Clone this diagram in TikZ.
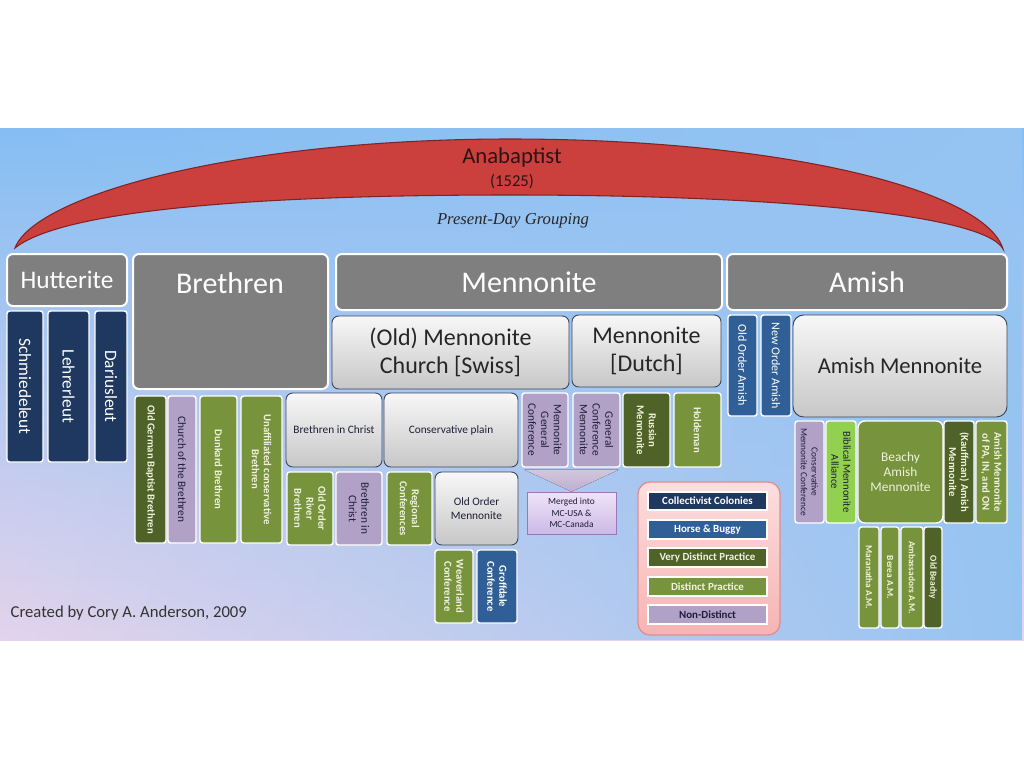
\documentclass[tikz,border=0pt]{standalone}
\usepackage{fontspec}
\setmainfont{Carlito}
\newfontfamily\serifit{Liberation Serif}
\usetikzlibrary{fadings,calc}
\definecolor{bgtop}{RGB}{133,190,244}
\definecolor{bgbot}{RGB}{228,212,236}
\definecolor{bgright}{RGB}{150,196,242}
\definecolor{arcred}{RGB}{203,63,60}
\definecolor{arcdark}{RGB}{130,35,35}
\definecolor{anatext}{RGB}{45,20,20}
\definecolor{navy}{RGB}{31,56,96}
\definecolor{hbblue}{RGB}{47,95,150}
\definecolor{dgreen}{RGB}{79,98,40}
\definecolor{mgreen}{RGB}{119,147,60}
\definecolor{lgreen}{RGB}{146,208,80}
\definecolor{lav}{RGB}{178,161,199}
\definecolor{hgray}{RGB}{127,127,127}
\definecolor{slate}{RGB}{60,70,90}
\definecolor{cream}{RGB}{240,242,222}
\definecolor{darktxt}{RGB}{30,30,55}
\definecolor{legtop}{RGB}{252,222,222}
\definecolor{legbot}{RGB}{246,180,180}
\definecolor{legedge}{RGB}{228,140,140}
\definecolor{mrgtop}{RGB}{238,228,248}
\definecolor{mrgbot}{RGB}{205,185,230}
\definecolor{mrgedge}{RGB}{150,120,190}
\tikzfading[name=fadeR, left color=transparent!100, right color=transparent!0]
\newcommand\bx[6]{\node[#6, minimum width={(#4-#2)*0.75pt}, minimum height={(#5-#3)*0.75pt}, inner sep=0pt] (#1) at ({(#2+#4)/2},{(#3+#5)/2}) {};}
\newcommand\tbx[8]{\bx{#1}{#2}{#3}{#4}{#5}{#6}\node[#7] (#1-t) at (#1.center) {#8};}
\begin{document}
\begin{tikzpicture}[x=0.75pt,y=-0.75pt,
  box/.style={draw=white, line width=1.1pt, rounded corners=2pt},
  head/.style={fill=hgray, draw=white, line width=1.5pt, rounded corners=4.5pt},
  lgbox/.style={top color=white!97!black, bottom color=black!22, draw=slate, line width=0.7pt, rounded corners=5pt},
  navybox/.style={box, fill=navy},
  bluebox/.style={box, fill=hbblue},
  dgbox/.style={box, fill=dgreen},
  gbox/.style={box, fill=mgreen},
  lgrbox/.style={box, fill=lgreen},
  lavbox/.style={box, fill=lav},
  legitem/.style={draw=white, line width=1.5pt},
  vt/.style={rotate=-90, align=center, inner sep=0pt},
  ondark/.style={text=cream},
  onlight/.style={text=darktxt},
  t7/.style={font=\fontsize{7}{8}\selectfont},
  t7b/.style={font=\fontsize{7}{8}\selectfont\bfseries},
  t8/.style={font=\fontsize{8}{9}\selectfont},
  t8b/.style={font=\fontsize{8}{9}\selectfont\bfseries},
  t85/.style={font=\fontsize{8.5}{9.5}\selectfont},
  t9/.style={font=\fontsize{9}{10}\selectfont},
  hd/.style={text=white, font=\fontsize{22.5}{24}\selectfont},
  big/.style={text=black!85, align=center, font=\fontsize{18}{20.5}\selectfont}
]
\useasboundingbox (0,0) rectangle (1024,768);
\fill[white] (0,0) rectangle (1024,768);
\shade[top color=bgtop, bottom color=bgbot] (0,128) rectangle (1024,640);
\fill[bgright, path fading=fadeR] (0,128) rectangle (1024,640);

% arc
\draw[draw=arcdark, fill=arcred, line width=0.8pt] (15,248) .. controls (35,195) and (238,139) .. (510,139) .. controls (782,139) and (985,190) .. (1003,249) .. controls (985,215) and (782,195) .. (510,195) .. controls (238,195) and (60,212) .. (15,248) -- cycle;
\node[text=anatext, font=\fontsize{17}{18}\selectfont] (ana) at (512,157) {Anabaptist};
\node[text=anatext, font=\fontsize{12.5}{13}\selectfont] (yr) at (512,182) {(1525)};
\node[text=black!85, font=\serifit\itshape\fontsize{12.5}{13}\selectfont] (pdg) at (513,221) {Present-Day Grouping};

% headings
\tbx{hut}{7}{254}{127}{306}{head}{text=white, font=\fontsize{19}{20}\selectfont}{Hutterite}
\bx{bre}{133}{254}{328}{389}{head}
\node[hd] (bre-t) at (230,283) {Brethren};
\tbx{men}{336}{254}{722}{310}{head}{hd}{Mennonite}
\tbx{ami}{727}{254}{1007}{310}{head}{hd}{Amish}

% Hutterite
\tbx{sch}{7}{311}{43}{462}{navybox}{vt,text=white,font=\fontsize{13}{14}\selectfont}{Schmiedeleut}
\tbx{leh}{48}{311}{89}{462}{navybox}{vt,text=white,font=\fontsize{13}{14}\selectfont}{Lehrerleut}
\tbx{dar}{95}{311}{127}{462}{navybox}{vt,text=white,font=\fontsize{13}{14}\selectfont}{Dariusleut}

% Brethren
\tbx{ogb}{135}{396}{166}{543}{dgbox}{vt,ondark,t8b}{Old German Baptist Brethren}
\tbx{cob}{168}{396}{196}{543}{lavbox}{vt,onlight,t85}{Church of the Brethren}
\tbx{dun}{200}{396}{237}{543}{gbox}{vt,ondark,t8b}{Dunkard Brethren}
\tbx{unc}{241}{396}{282}{543}{gbox}{vt,ondark,t8b}{Unaffiliated conservative\\Brethren}
\tbx{bic}{286}{393}{382}{467}{lgbox}{onlight,t85}{Brethren in Christ}
\tbx{oorb}{287}{472}{333}{545}{gbox}{vt,ondark,t8b}{Old Order\\River\\Brethren}
\tbx{bic2}{336}{472}{382}{545}{lavbox}{vt,onlight,t85}{Brethren in\\Christ}

% Mennonite
\tbx{omc}{332}{316}{569}{389}{lgbox}{big}{(Old) Mennonite\\Church [Swiss]}
\tbx{mdu}{572}{315}{721}{387}{lgbox}{big}{Mennonite\\{[Dutch]}}
\tbx{cpl}{384}{393}{518}{467}{lgbox}{onlight,t85}{Conservative plain}
\tbx{mgc}{522}{393}{568}{467}{lavbox}{vt,onlight,t85}{Mennonite\\General\\Conference}
\tbx{gcm}{573}{393}{620}{467}{lavbox}{vt,onlight,t85}{General\\Conference\\Mennonite}
\tbx{rus}{623}{393}{670}{467}{dgbox}{vt,ondark,t8b}{Russian\\Mennonite}
\tbx{hol}{674}{393}{721}{467}{gbox}{vt,ondark,t8b}{Holdeman}
\tbx{reg}{387}{472}{432}{545}{gbox}{vt,ondark,t8b}{Regional\\Conferences}
\tbx{oom}{435}{472}{518}{545}{lgbox}{onlight,align=center,font=\fontsize{8.5}{10.5}\selectfont}{Old Order\\Mennonite}
\tbx{wea}{435}{550}{473}{623}{gbox}{vt,ondark,t8b}{Weaverland\\Conference}
\tbx{gro}{477}{550}{517}{623}{bluebox}{vt,text=white,t8b}{Groffdale\\Conference}
\tbx{mrg}{527}{492}{616}{534}{top color=mrgtop, bottom color=mrgbot, draw=mrgedge, line width=0.6pt}{onlight,align=center,font=\fontsize{7}{8.5}\selectfont}{Merged into\\MC-USA \&\\MC-Canada}
\fill[top color=lav!60!white, bottom color=lav!85!white] ($(mgc.south west)+(3,2)$) -- ($(gcm.south east)+(-2,2)$) -- (mrg.north) -- cycle;

% Amish
\tbx{ooa}{728}{315}{757}{416}{bluebox}{vt,text=white,t9}{Old Order Amish}
\tbx{noa}{761}{315}{791}{416}{bluebox}{vt,text=white,t9}{New Order Amish}
\tbx{amm}{793}{315}{1007}{417}{lgbox, rounded corners=8pt}{text=black!85, font=\fontsize{17}{18}\selectfont}{Amish Mennonite}
\tbx{cmc}{795}{421}{824}{523}{lavbox}{vt,onlight,t7}{Conservative\\Mennonite Conference}
\tbx{bma}{826}{421}{856}{523}{lgrbox}{vt,onlight,t8}{Biblical Mennonite\\Alliance}
\tbx{bam}{858}{421}{943}{523}{gbox, rounded corners=5pt}{ondark,align=center,font=\fontsize{10}{11.5}\selectfont}{Beachy\\Amish\\Mennonite}
\tbx{kam}{944}{421}{974}{523}{dgbox}{vt,ondark,t8b}{(Kauffman) Amish\\Mennonite}
\tbx{amp}{976}{421}{1007}{523}{gbox}{vt,ondark,t8b}{Amish Mennonite\\of PA, IN, and ON}
\tbx{mar}{859}{527}{879}{628}{gbox}{vt,ondark,t7b}{Maranatha A.M.}
\tbx{ber}{881}{527}{899}{628}{gbox}{vt,ondark,t7b}{Berea A.M.}
\tbx{amb}{901}{527}{923}{628}{gbox}{vt,ondark,t7b}{Ambassadors A.M.}
\tbx{obe}{924}{527}{942}{628}{dgbox}{vt,ondark,t7b}{Old Beachy}

% Legend
\bx{leg}{638}{482}{780}{635}{top color=legtop, bottom color=legbot, draw=legedge, line width=1pt, rounded corners=9pt}
\tbx{lcc}{648}{492}{767}{510}{legitem, fill=navy}{text=white,font=\fontsize{8.2}{9}\selectfont\bfseries}{Collectivist Colonies}
\tbx{lhb}{648}{520}{767}{539}{legitem, fill=hbblue}{text=white,font=\fontsize{8.2}{9}\selectfont\bfseries}{Horse \& Buggy}
\tbx{lvd}{648}{548}{767}{567}{legitem, fill=dgreen}{ondark,font=\fontsize{8.2}{9}\selectfont\bfseries}{Very Distinct Practice}
\tbx{ldp}{648}{577}{767}{596}{legitem, fill=mgreen}{ondark,font=\fontsize{8.2}{9}\selectfont\bfseries}{Distinct Practice}
\tbx{lnd}{648}{605}{767}{624}{legitem, fill=lav}{onlight,font=\fontsize{8.2}{9}\selectfont\bfseries}{Non-Distinct}

\node[anchor=west, text=black!80, font=\fontsize{12.5}{13}\selectfont] (cred) at (6,613) {Created by Cory A. Anderson, 2009};
\end{tikzpicture}
\end{document}
